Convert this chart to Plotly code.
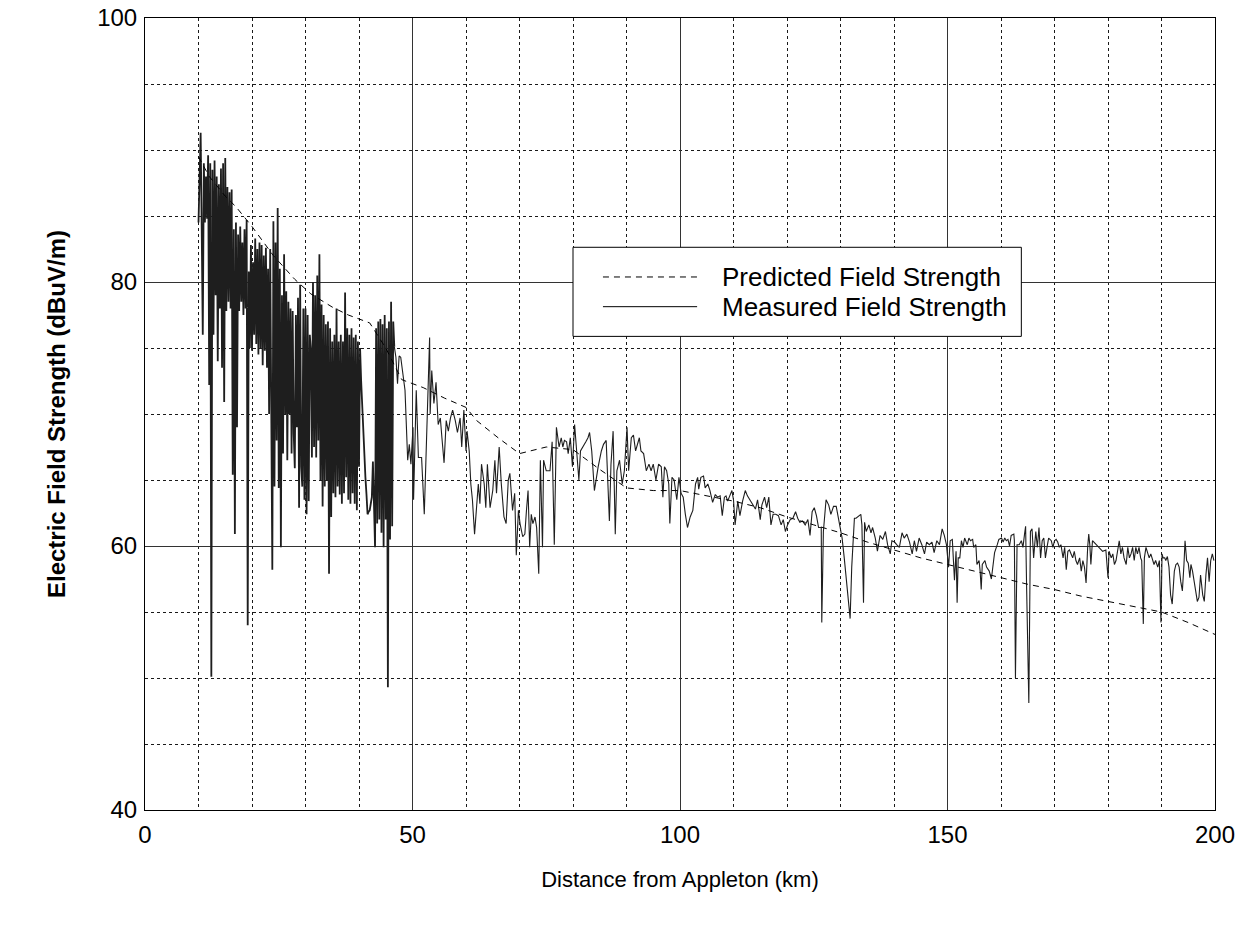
import plotly.graph_objects as go

# ---------------- data ----------------
# Predicted field strength (dBuV/m) vs distance (km)
pred_km = [10, 12, 15, 17, 20, 24, 28, 31, 35, 38, 42, 45, 48, 52, 56, 60, 62, 66, 70,
           75, 80, 85, 90, 95, 100, 105, 110, 115, 120, 125, 130, 135, 140, 145, 150,
           155, 160, 165, 170, 175, 180, 185, 190, 195, 200]
pred_db = [89.5, 88.0, 86.5, 85.7, 84.2, 82.0, 80.2, 79.1, 78.1, 77.5, 76.9, 75.0, 72.6,
           72.0, 71.2, 70.5, 69.5, 68.2, 67.0, 67.5, 67.3, 65.8, 64.4, 64.2, 64.2, 63.8,
           63.4, 62.9, 62.2, 61.6, 61.0, 60.3, 59.7, 59.1, 58.6, 58.1, 57.6, 57.1, 56.7,
           56.2, 55.8, 55.4, 55.0, 54.2, 53.3]

# Measured field strength, dense near-in run: samples every 0.2 km from 10.0 km
dense_start_km = 10.0
dense_step_km = 0.2
dense_db = [
    84.5, 89.0, 91.3, 84.0, 76.0, 89.0, 84.5, 88.0, 84.8, 89.6,
    72.2, 89.0, 50.1, 88.5, 76.0, 89.2, 79.0, 88.0, 74.0, 87.4,
    78.0, 88.6, 73.5, 89.0, 70.9, 89.4, 77.8, 87.2, 78.5, 86.8,
    78.0, 87.0, 65.4, 84.0, 60.9, 84.5, 69.0, 83.6, 77.8, 84.2,
    78.5, 83.0, 77.5, 84.0, 78.0, 84.7, 54.0, 80.8, 75.0, 82.8,
    74.8, 81.5, 76.0, 83.3, 75.3, 82.5, 74.5, 83.0, 75.0, 82.8,
    73.7, 82.0, 74.8, 82.6, 73.5, 81.0, 70.0, 82.5, 66.0, 58.2,
    84.6, 64.5, 83.0, 68.0, 85.6, 64.4, 81.0, 59.9, 79.0, 67.0,
    82.1, 70.0, 79.3, 66.5, 78.5, 70.0, 78.0, 67.0, 77.8, 68.5,
    65.9, 77.5, 69.0, 78.8, 62.9, 79.8, 66.0, 64.5, 78.0, 63.5,
    78.0, 62.4, 77.5, 63.4, 76.0, 74.9, 66.7, 80.0, 67.5, 79.0,
    66.7, 80.5, 68.0, 82.1, 65.0, 78.3, 63.0, 77.5, 64.5, 76.8,
    65.0, 77.0, 57.9, 76.5, 62.2, 75.5, 64.0, 76.0, 63.7, 78.0,
    64.5, 75.5, 63.9, 76.0, 63.2, 75.5, 64.0, 79.2, 65.2, 76.5,
    63.5, 76.0, 63.2, 76.5, 64.0, 75.8, 63.2, 76.0, 62.7, 75.5,
    66.0, 75.0, 72.5, 70.7, 68.2, 66.0, 65.2, 63.9, 62.4, 62.6,
    62.7, 63.2, 63.7, 66.4, 63.0, 59.9, 76.5, 61.7, 77.0, 62.0,
    77.2, 61.0, 76.8, 59.9, 77.5, 62.0, 76.5, 49.3, 77.0, 60.5,
    78.5, 61.5, 77.0,
]

# Measured field strength, sparser run beyond the dense section
far_km = [
    46.6, 46.9, 47.2, 47.5, 47.8, 48.2, 48.6, 49.1, 49.4, 49.7, 50.1, 50.2, 50.7, 51.1,
    51.7, 52.2, 52.7, 53.2, 53.3, 53.6, 54.0, 54.4, 54.8, 55.2, 55.5, 55.9, 56.3, 56.7,
    57.1, 57.5, 58.0, 58.4, 58.9, 59.2, 59.6, 60.0, 60.2, 60.6, 60.9, 61.2, 61.6, 62.0,
    62.3, 62.6, 62.9, 63.4, 63.7, 64.0, 64.5, 65.0, 65.4, 65.7, 66.2, 66.6, 67.1, 67.5,
    67.9, 68.2, 68.7, 69.1, 69.4, 69.8, 70.1, 70.6, 71.0, 71.3, 71.6, 71.9, 72.2, 72.5,
    72.9, 73.2, 73.6, 73.9, 74.3, 74.5, 75.0, 75.7, 76.1, 76.5, 76.9, 77.4, 77.8, 78.1,
    78.4, 78.8, 79.1, 79.5, 79.9, 80.3, 80.7, 81.1, 81.4, 81.9, 82.4, 82.8, 83.1, 83.5,
    84.0, 84.7, 85.3, 85.7, 86.2, 86.8, 87.1, 87.5, 87.9, 88.2, 88.7, 89.2, 89.6, 90.1,
    90.4, 90.9, 91.3, 91.7, 92.1, 92.4, 92.7, 93.2, 93.7, 94.2, 94.6, 95.0, 95.5, 96.0,
    96.5, 96.8, 97.1, 97.5, 97.9, 98.1, 98.5, 98.9, 99.4, 99.8, 100.2, 100.6, 101.0,
    101.4, 101.9, 102.4, 102.9, 103.3,
    103.5, 103.9, 104.4, 104.7, 105.2, 105.6, 106.1, 106.6, 107.0, 107.5, 107.9, 108.3,
    108.6, 108.9, 109.3, 109.7, 110.0, 110.3, 110.8, 111.2, 111.7, 112.2, 112.6, 113.1,
    113.6, 114.1, 114.5, 115.0, 115.3, 115.8, 116.2, 116.6, 117.0, 117.4, 117.9, 118.4,
    118.9, 119.3, 119.7, 120.1, 120.6, 121.1, 121.6, 122.0, 122.4, 122.9, 123.4, 123.9,
    124.3, 124.7, 125.1, 125.5, 125.9, 126.4, 126.5, 126.8, 127.3, 127.8, 128.2, 128.7,
    129.2, 129.6, 129.9, 130.3, 130.7, 131.2, 131.5, 131.8, 132.1, 132.6, 132.9, 133.4,
    133.8, 134.0, 134.3, 134.5, 134.8, 135.3, 135.7, 136.0, 136.5, 136.9, 137.4, 137.9,
    138.4, 138.8, 139.3, 139.6, 140.1, 140.5, 141.0, 141.5, 141.9, 142.4, 142.9, 143.4,
    143.8, 144.2, 144.7, 145.2, 145.7, 146.1, 146.6, 147.1, 147.5, 148.0, 148.5, 149.0,
    149.4, 149.8, 150.2, 150.5, 150.9, 151.3, 151.6, 151.8, 152.0,
    152.3, 152.6, 152.9, 153.2, 153.7, 154.0, 154.3, 154.7, 154.9, 155.3, 155.5, 155.9,
    156.1, 156.3, 156.5, 157.0, 157.3, 157.8, 158.2, 158.5, 158.8, 159.3, 159.6, 160.1,
    160.4, 160.7, 161.0, 161.3, 161.6, 161.9, 162.4, 162.5, 162.7, 163.0, 163.4, 163.8,
    164.1, 164.4, 164.6, 164.8, 165.2, 165.5, 165.8, 166.1, 166.5, 166.8, 167.1, 167.4,
    167.7, 168.0, 168.3, 168.6, 168.9, 169.4, 169.7, 170.0, 170.3, 170.6, 170.9, 171.2,
    171.6, 171.9, 172.2, 172.5, 172.8, 173.1, 173.4, 173.7, 174.0, 174.3, 174.7, 175.0,
    175.3, 175.6, 175.9, 176.2, 176.4, 176.6, 176.8, 177.1, 177.8, 178.4, 179.0, 179.6,
    180.0, 180.2, 180.6, 180.9, 181.2, 181.5, 181.8, 182.1, 182.4, 182.7, 183.0, 183.4,
    183.7, 184.0, 184.3, 184.6, 184.9, 185.2, 185.5, 185.8, 186.1, 186.3, 186.6, 186.8,
    187.1, 187.4, 187.7, 188.0, 188.3, 188.6, 188.9, 189.3, 189.6, 189.9, 190.1, 190.3,
    190.6, 190.8, 191.1, 191.4, 191.7, 192.0, 192.4, 192.7, 193.0, 193.3, 193.6, 193.9,
    194.2, 194.4, 194.7, 195.0, 195.3, 195.5, 195.8, 196.1, 196.4, 196.7, 197.0, 197.3,
    197.7, 198.0, 198.3, 198.6, 198.9, 199.2, 199.5, 199.8,
]
far_db = [
    75.1, 74.3, 72.3, 74.4, 74.3, 72.9, 71.8, 66.5, 67.7, 66.2, 69.0, 63.5, 71.8, 66.7,
    66.7, 62.4, 69.2, 75.8, 70.0, 73.3, 70.8, 72.4, 69.2, 69.7, 68.2, 66.3, 69.5, 68.7,
    69.7, 70.3, 69.5, 68.6, 69.7, 67.5, 70.3, 67.2, 68.7, 67.2, 64.7, 63.5, 60.9, 63.5,
    64.7, 63.2, 66.2, 64.7, 62.9, 66.2, 62.9, 64.2, 66.5, 64.0, 67.5, 64.7, 62.2, 61.7,
    65.0, 65.5, 62.7, 64.0, 59.3, 62.7, 61.7, 60.7, 60.9, 62.7, 64.2, 59.9, 62.4, 61.7,
    62.2, 61.4, 57.9, 66.5, 59.9, 66.5, 65.7, 65.7, 67.9, 60.1, 69.0, 67.5, 68.2, 67.5,
    68.0, 67.9, 67.0, 68.2, 66.0, 69.2, 66.7, 65.0, 67.2, 67.5, 67.9, 68.2, 68.6, 67.2,
    64.2, 66.0, 67.2, 67.7, 68.0, 61.9, 66.2, 68.7, 60.9, 65.7, 66.5, 64.7, 65.7, 69.0,
    65.7, 68.2, 68.4, 67.2, 67.7, 68.2, 67.2, 67.0, 65.7, 66.2, 65.7, 66.2, 65.0, 66.2,
    66.0, 63.7, 66.0, 65.7, 64.7, 61.7, 65.2, 65.0, 63.5, 65.2, 64.0, 63.7, 62.4,
    61.4, 62.2, 62.7, 64.7, 65.2,
    64.3, 65.2, 65.3, 64.4, 64.7, 64.2, 63.3, 63.9, 63.7, 63.8, 62.3, 63.7,
    63.8, 63.4, 63.8, 64.2, 63.5, 61.6, 63.4, 62.3, 63.4, 64.2, 63.8, 63.5,
    63.1, 62.8, 63.5, 62.0, 63.1, 63.7, 62.9, 63.7, 61.6, 62.4, 62.4, 62.3,
    61.6, 62.0, 61.1, 61.6, 62.0, 62.1, 62.6, 62.1, 61.8, 61.9, 61.6, 62.0,
    60.8, 62.6, 62.9, 62.3, 61.4, 61.4, 54.2, 61.1, 63.5, 63.1, 62.4, 63.0,
    63.0, 62.1, 61.6, 60.6, 59.1, 57.1, 55.6, 54.5, 58.4, 62.1, 62.1, 62.3,
    62.4, 61.6, 55.7, 61.8, 61.1, 61.6, 61.0, 61.4, 60.6, 59.6, 60.8, 60.5,
    61.1, 60.1, 59.4, 60.4, 60.3, 60.1, 59.9, 61.0, 60.6, 60.9, 60.3, 59.4,
    60.4, 59.6, 60.6, 60.1, 59.4, 60.3, 60.1, 60.3, 59.5, 60.4, 60.1, 61.3,
    60.8, 60.1, 58.4, 60.4, 60.5, 57.4, 59.6, 55.7, 59.1,
    59.1, 60.4, 59.9, 60.6, 60.1, 60.6, 60.4, 60.5, 59.9, 60.1, 58.6, 58.9,
    58.1, 56.7, 58.6, 58.9, 58.4, 58.1, 57.5, 58.4, 59.5, 60.1, 60.5, 60.6,
    60.3, 60.6, 60.4, 60.5, 60.0, 60.8, 60.9, 60.4, 50.0, 60.1, 60.1, 60.4,
    59.9, 60.9, 61.5, 56.6, 48.1, 61.1, 61.3, 59.1, 61.1, 59.9, 61.4, 59.1,
    60.4, 60.6, 59.1, 59.9, 60.6, 60.4, 59.9, 60.4, 60.5, 60.3, 59.9, 60.1,
    59.1, 59.9, 58.2, 59.6, 59.7, 59.4, 59.1, 59.6, 58.9, 58.6, 59.1, 58.1,
    58.9, 58.4, 57.2, 59.9, 60.9, 60.1, 58.6, 60.4, 60.1, 59.9, 59.6, 59.7,
    57.6, 59.6, 59.1, 59.4, 58.6, 58.9, 59.6, 60.4, 59.4, 59.9, 59.1, 58.6,
    59.9, 59.1, 59.4, 59.9, 58.9, 59.9, 59.4, 59.9, 59.1, 58.9, 54.1, 59.1,
    59.9, 59.4, 59.1, 59.4, 59.0, 58.6, 58.9, 58.4, 58.9, 54.2, 59.4, 59.1,
    59.1, 58.9, 59.2, 58.4, 56.3, 55.6, 58.1, 58.6, 58.7, 58.4, 57.3, 56.6,
    58.6, 60.4, 58.9, 58.7, 57.6, 58.6, 58.1, 57.2, 56.3, 55.8, 56.1, 57.8,
    56.3, 55.8, 57.8, 59.1, 57.3, 58.9, 59.4, 58.9,
]

x_ticks = [0, 50, 100, 150, 200]
y_ticks = [40, 60, 80, 100]
legend_labels = ["Predicted Field Strength", "Measured Field Strength"]
x_title = "Distance from Appleton (km)"
y_title = "Electric Field Strength (dBuV/m)"

# ---------------- build ----------------
dense_km = [round(dense_start_km + dense_step_km * i, 2) for i in range(len(dense_db))]

FONT = "Liberation Sans, Arial, Helvetica, sans-serif"
MEAS_COLOR = "#1e1e1e"

fig = go.Figure()
# dense near-in section (heavier stroke so the rapid fluctuation reads as a band)
fig.add_trace(go.Scatter(x=dense_km + far_km[:1], y=dense_db + far_db[:1], mode="lines",
                         line=dict(color=MEAS_COLOR, width=1.8), name=legend_labels[1],
                         showlegend=False))
fig.add_trace(go.Scatter(x=far_km, y=far_db, mode="lines",
                         line=dict(color=MEAS_COLOR, width=1.1), name=legend_labels[1],
                         showlegend=False))
fig.add_trace(go.Scatter(x=pred_km, y=pred_db, mode="lines",
                         line=dict(color="black", width=1, dash="6px,5px"),
                         name=legend_labels[0], showlegend=False))

axis_common = dict(
    showline=True, mirror=True, linecolor="black", linewidth=1,
    showgrid=True, gridcolor="#333333", gridwidth=1,
    zeroline=False, ticks="", automargin=False,
    tickfont=dict(family=FONT, size=24, color="black"),
)
fig.update_xaxes(range=[0, 200], tickvals=x_ticks, **axis_common,
                 minor=dict(dtick=10, showgrid=True, gridcolor="#1a1a1a",
                            griddash="3px,3px", gridwidth=1),
                 ticklabelstandoff=3,
                 title=dict(text=x_title, font=dict(family=FONT, size=22, color="black"),
                            standoff=24))
fig.update_yaxes(range=[40, 100], tickvals=y_ticks, **axis_common,
                 minor=dict(dtick=5, showgrid=True, gridcolor="#1a1a1a",
                            griddash="3px,3px", gridwidth=1),
                 ticklabelstandoff=2,
                 title=dict(text="<b>" + y_title + "</b>",
                            font=dict(family=FONT, size=24, color="black"),
                            standoff=24))

# legend drawn as a boxed key inside the plot
lx0, lx1, ly0, ly1 = 0.400, 0.819, 0.598, 0.7105
shapes = [dict(type="rect", xref="paper", yref="paper", x0=lx0, x1=lx1, y0=ly0, y1=ly1,
               line=dict(color="black", width=1), fillcolor="white", layer="above")]
rows_y = [0.673, 0.6355]
dashes = ["6px,5px", "solid"]
for yy, dsh in zip(rows_y, dashes):
    shapes.append(dict(type="line", xref="paper", yref="paper", x0=0.428, x1=0.516,
                       y0=yy, y1=yy, line=dict(color="black", width=1, dash=dsh),
                       layer="above"))
annotations = [dict(xref="paper", yref="paper", x=0.537, y=yy, text=t, showarrow=False,
                    xanchor="left", yanchor="middle",
                    font=dict(family=FONT, size=26, color="black"))
               for yy, t in zip(rows_y, legend_labels)]

fig.update_layout(
    width=1252, height=930,
    margin=dict(l=145, r=37, t=18, b=120),
    paper_bgcolor="white", plot_bgcolor="white",
    shapes=shapes, annotations=annotations,
    showlegend=False,
)

fig.write_html("out.html")
